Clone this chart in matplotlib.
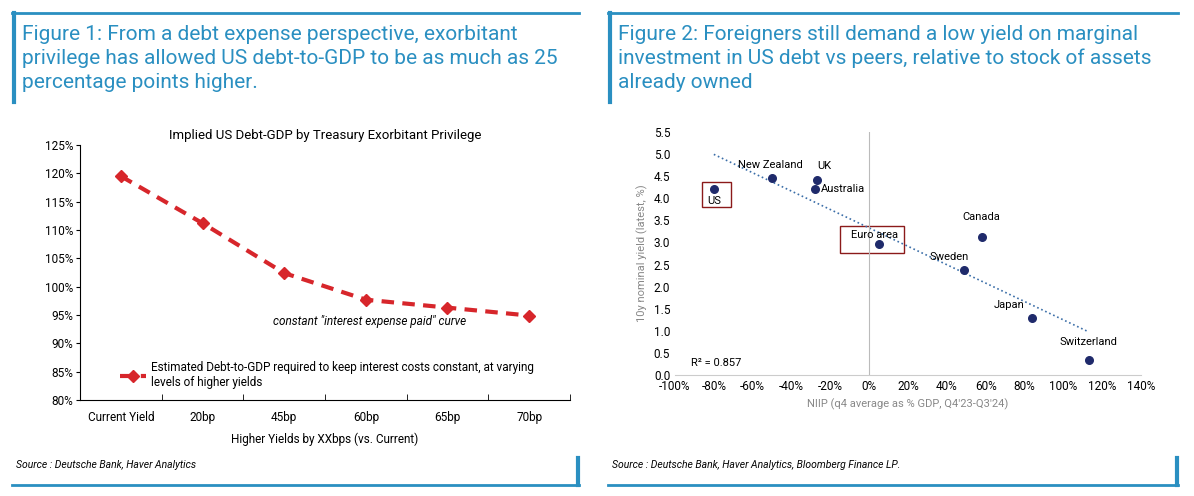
import matplotlib
matplotlib.use("Agg")
import matplotlib.pyplot as plt
from matplotlib.patches import Rectangle
from matplotlib.lines import Line2D
import numpy as np

plt.rcParams["font.family"] = "Roboto"

# Figure 1 data
cats1 = ["Current Yield", "20bp", "45bp", "60bp", "65bp", "70bp"]
debt_gdp = [119.5, 111.2, 102.4, 97.7, 96.3, 94.9]
# Figure 2 data
countries = ["US", "New Zealand", "UK", "Australia", "Euro area", "Canada", "Sweden", "Japan", "Switzerland"]
niip = [-80, -50, -27, -28, 5, 58, 49, 84, 113]
yields = [4.2, 4.45, 4.42, 4.22, 2.97, 3.12, 2.37, 1.28, 0.35]

W, H = 1194, 496
fig = plt.figure(figsize=(W/100, H/100), dpi=100)
BLUE = "#2a8fc1"
RED = "#d7262b"
NAVY = "#1f2a6b"

def px(x0, y0, x1, y1):
    return [x0/W, 1-y1/H, (x1-x0)/W, (y1-y0)/H]

# Panel frames
for (xl, xr) in [(12, 579), (608, 1178)]:
    fig.add_artist(Line2D([xl/W, xr/W], [1-13/H, 1-13/H], color=BLUE, lw=2))
    fig.add_artist(Line2D([(xl+2)/W]*2, [1-13/H, 1-102/H], color=BLUE, lw=3))
    fig.add_artist(Line2D([xl/W, xr/W], [1-485/H, 1-485/H], color=BLUE, lw=2))
    fig.add_artist(Line2D([(xr-1)/W]*2, [1-458/H, 1-485/H], color=BLUE, lw=3))

t1 = "Figure 1: From a debt expense perspective, exorbitant\nprivilege has allowed US debt-to-GDP to be as much as 25\npercentage points higher."
t2 = "Figure 2: Foreigners still demand a low yield on marginal\ninvestment in US debt vs peers, relative to stock of assets\nalready owned"
fig.text(22/W, 1-25/H, t1, color=BLUE, fontsize=15, va="top", linespacing=1.32)
fig.text(618/W, 1-25/H, t2, color=BLUE, fontsize=15, va="top", linespacing=1.32)
fig.text(16/W, 1-465/H, "Source : Deutsche Bank, Haver Analytics", fontsize=7.5, style="italic", va="center")
fig.text(612/W, 1-465/H, "Source : Deutsche Bank, Haver Analytics, Bloomberg Finance LP.", fontsize=7.5, style="italic", va="center")

# Left chart
ax = fig.add_axes(px(80, 145, 570, 400))
x = np.arange(len(cats1))
ax.plot(x, debt_gdp, color=RED, lw=3, ls=(0, (3, 2)), marker="D", ms=6,
        label="Estimated Debt-to-GDP required to keep interest costs constant, at varying\nlevels of higher yields")
ax.set_xlim(-0.5, len(cats1)-0.5)
ax.set_ylim(80, 125)
ax.set_yticks(range(80, 126, 5))
ax.set_yticklabels([f"{v}%" for v in range(80, 126, 5)], fontsize=8.5)
ax.set_xticks(x)
ax.set_xticklabels(cats1, fontsize=8.5)
ax.set_xticks(np.arange(-0.5, len(cats1)), minor=True)
ax.tick_params(axis="x", which="major", length=0, pad=8)
ax.tick_params(axis="x", which="minor", length=4, direction="in")
ax.tick_params(axis="y", length=3, pad=2)
for s in ["top", "right"]:
    ax.spines[s].set_visible(False)
ax.set_xlabel("Higher Yields by XXbps (vs. Current)", fontsize=8.5, labelpad=6)
ax.set_title("Implied US Debt-GDP by Treasury Exorbitant Privilege", fontsize=9.5, pad=4)
ax.text(3.05, 93.3, 'constant "interest expense paid" curve', fontsize=8.5, style="italic", ha="center")
ax.legend(loc="lower left", bbox_to_anchor=(0.06, 0.0), frameon=False, fontsize=8.5, handlelength=2.2, handletextpad=0.4)

# Right chart
ax2 = fig.add_axes(px(675, 132, 1141, 375))
ax2.scatter(niip, yields, color=NAVY, s=30, zorder=3)
m, b = np.polyfit(niip, yields, 1)
xs = np.array([min(niip), max(niip)])
ax2.plot(xs, m*xs+b, ls=":", color="#3b6ea8", lw=1.2)
ax2.axvline(0, color="#bbbbbb", lw=0.8)
ax2.set_xlim(-100, 140)
ax2.set_ylim(0, 5.5)
ax2.set_xticks(range(-100, 141, 20))
ax2.set_xticklabels([f"{v}%" for v in range(-100, 141, 20)], fontsize=8.5)
ax2.set_yticks(np.arange(0, 5.51, 0.5))
ax2.set_yticklabels([f"{v:.1f}" for v in np.arange(0, 5.51, 0.5)], fontsize=8.5)
ax2.tick_params(length=0)
for s in ["top", "right", "left"]:
    ax2.spines[s].set_visible(False)
ax2.spines["bottom"].set_color("#cccccc")
ax2.set_xlabel("NIIP (q4 average as % GDP, Q4'23-Q3'24)", fontsize=8, color="#888888")
ax2.set_ylabel("10y nominal yield (latest, %)", fontsize=8, color="#888888")
offs = {"US": (0, -0.27, "center"), "New Zealand": (-1, 0.3, "center"), "UK": (4, 0.3, "center"),
        "Australia": (3, 0, "left"), "Euro area": (-2, 0.2, "center"), "Canada": (0, 0.45, "center"),
        "Sweden": (-8, 0.3, "center"), "Japan": (-12, 0.3, "center"), "Switzerland": (0, 0.4, "center")}
for c, xv, yv in zip(countries, niip, yields):
    dx, dy, ha = offs[c]
    ax2.text(xv+dx, yv+dy, c, fontsize=8, ha=ha, va="center")
ax2.add_patch(Rectangle((-86, 3.8), 15, 0.57, fill=False, ec="#8b1a1a", lw=1))
ax2.add_patch(Rectangle((-15, 2.76), 33, 0.61, fill=False, ec="#8b1a1a", lw=1))
ax2.text(-92, 0.2, "R\u00b2 = 0.857", fontsize=8)

fig.savefig("out.png", dpi=100, facecolor="white")
